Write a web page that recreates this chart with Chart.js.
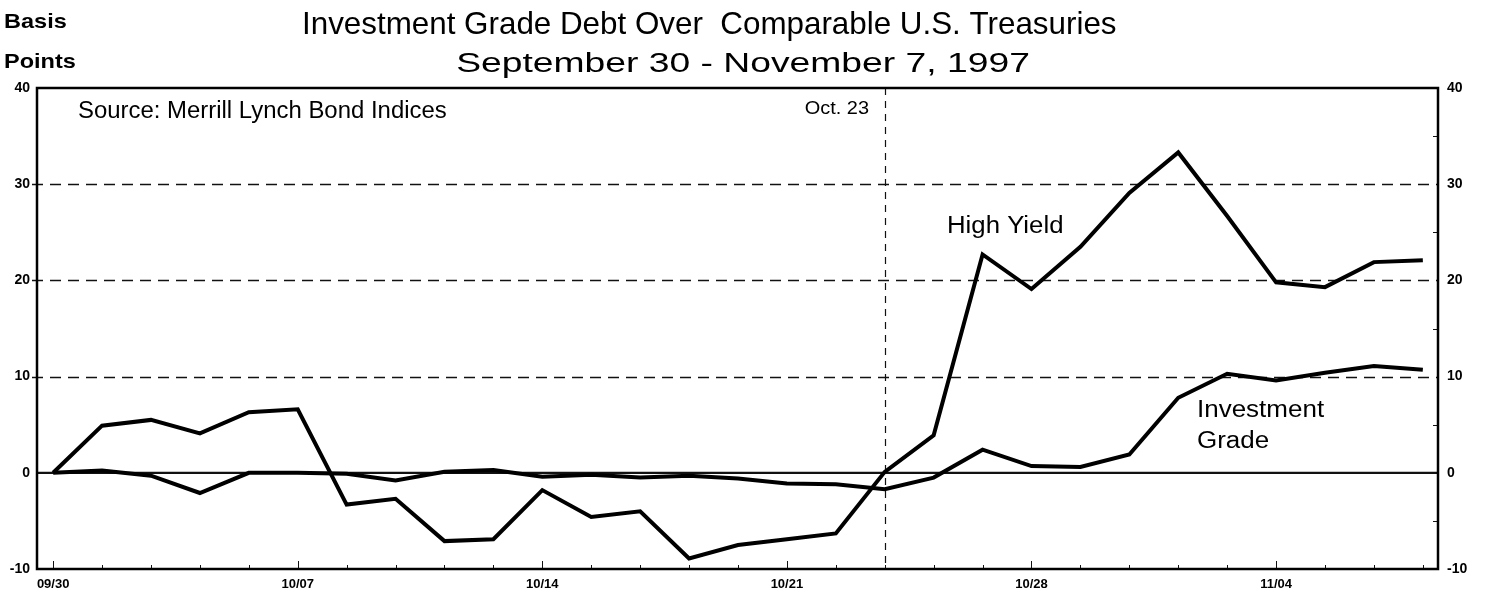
<!DOCTYPE html>
<html>
<head>
<meta charset="utf-8">
<script src="https://cdn.jsdelivr.net/npm/chart.js@4.4.0/dist/chart.umd.min.js"></script>
<style>
    html, body { margin: 0; padding: 0; background: #fff; }
    #wrap { width: 1492px; height: 598px; }
</style>
</head>
<body>
<div id="wrap"><canvas id="spreadChart" width="1492" height="598"></canvas></div>
<script>
// =========================================================
// Datos (puntos básicos sobre Treasuries, días hábiles)
// =========================================================

const dates = [
    '09/30', '10/01', '10/02', '10/03', '10/06', '10/07', '10/08', '10/09', '10/10',
    '10/13', '10/14', '10/15', '10/16', '10/17', '10/20', '10/21', '10/22', '10/23',
    '10/24', '10/27', '10/28', '10/29', '10/30', '10/31', '11/03', '11/04', '11/05',
    '11/06', '11/07'
];

const tickLabels = ['09/30', '10/07', '10/14', '10/21', '10/28', '11/04'];

const highYield = [
    0, 4.9, 5.5, 4.1, 6.3, 6.6, -3.3, -2.7, -7.1,
    -6.9, -1.8, -4.6, -4.0, -8.9, -7.5, -6.9, -6.3, 0.1,
    3.9, 22.7, 19.1, 23.5, 29.1, 33.3, 26.7, 19.8, 19.3,
    21.9, 22.1
];

const investmentGrade = [
    0, 0.25, -0.3, -2.1, 0, 0, -0.1, -0.8, 0.1,
    0.3, -0.4, -0.2, -0.5, -0.3, -0.6, -1.1, -1.2, -1.7,
    -0.5, 2.4, 0.7, 0.6, 1.9, 7.8, 10.3, 9.6, 10.4,
    11.1, 10.7
];

const yTicks = [-10, 0, 10, 20, 30, 40];
const dashedLevels = [10, 20, 30];
const eventDate = '10/23';

const FONT = '"Liberation Sans", Arial, sans-serif';

// texto con estiramiento horizontal (el original está escaneado más ancho)
function drawText(ctx, text, x, y, size, align, sx, weight) {
    ctx.save();
    ctx.font = `${weight || 'normal'} ${size}px ${FONT}`;
    ctx.textAlign = align;
    ctx.textBaseline = 'alphabetic';
    ctx.fillStyle = '#000';
    ctx.translate(x, y);
    ctx.scale(sx, 1);
    ctx.fillText(text, 0, 0);
    ctx.restore();
}

// =========================================================
// Plugin: rejilla discontinua, línea cero, marca Oct. 23, marco y textos
// =========================================================

const framePlugin = {
    id: 'frame',
    beforeDatasetsDraw(chart) {
        const { ctx, chartArea: a, scales } = chart;
        const y = scales.y, x = scales.x, y2 = scales.y2;
        ctx.save();
        ctx.strokeStyle = '#111';

        // líneas discontinuas horizontales
        ctx.lineWidth = 1.3;
        ctx.setLineDash([11, 7]);
        dashedLevels.forEach(v => {
            const py = Math.round(y.getPixelForValue(v)) + 0.5;
            ctx.beginPath();
            ctx.moveTo(a.left - 5, py);
            ctx.lineTo(a.right, py);
            ctx.stroke();
        });

        // línea vertical del evento
        ctx.lineWidth = 1.2;
        ctx.setLineDash([7, 6]);
        const ex = Math.round(x.getPixelForValue(dates.indexOf(eventDate))) + 0.5;
        ctx.beginPath();
        ctx.moveTo(ex, a.top);
        ctx.lineTo(ex, a.bottom);
        ctx.stroke();

        // línea cero
        ctx.setLineDash([]);
        ctx.lineWidth = 2.2;
        const zy = y.getPixelForValue(0);
        ctx.beginPath();
        ctx.moveTo(a.left, zy);
        ctx.lineTo(a.right, zy);
        ctx.stroke();

        // marcas del eje x hacia dentro
        ctx.lineWidth = 1;
        dates.forEach((d, i) => {
            const px = Math.round(x.getPixelForValue(i)) + 0.5;
            const len = tickLabels.includes(d) ? 8 : 4;
            ctx.beginPath();
            ctx.moveTo(px, a.bottom);
            ctx.lineTo(px, a.bottom - len);
            ctx.stroke();
        });

        // marcas menores del eje derecho
        for (let v = -5; v < 40; v += 10) {
            const py = Math.round(y2.getPixelForValue(v)) + 0.5;
            ctx.beginPath();
            ctx.moveTo(a.right, py);
            ctx.lineTo(a.right - 5, py);
            ctx.stroke();
        }
        ctx.restore();
    },
    afterDatasetsDraw(chart) {
        const { ctx, chartArea: a } = chart;
        ctx.save();
        ctx.strokeStyle = '#000';
        ctx.lineWidth = 2.5;
        ctx.strokeRect(a.left, a.top, a.right - a.left, a.bottom - a.top);
        ctx.restore();

        drawText(ctx, 'Basis', 4, 28, 21, 'left', 1.12, 'bold');
        drawText(ctx, 'Points', 4, 68, 21, 'left', 1.12, 'bold');
        drawText(ctx, 'Investment Grade Debt Over  Comparable U.S. Treasuries', 302, 34, 32, 'left', 0.98);
        drawText(ctx, 'September 30 - November 7, 1997', 743, 72, 27, 'center', 1.38);
        drawText(ctx, 'Source: Merrill Lynch Bond Indices', 78, 118, 23, 'left', 1.04);
        drawText(ctx, 'Oct. 23', 869, 114, 19, 'right', 1.05);
        drawText(ctx, 'High Yield', 947, 233, 23, 'left', 1.12);
        drawText(ctx, 'Investment', 1197, 417, 23, 'left', 1.13);
        drawText(ctx, 'Grade', 1197, 448, 23, 'left', 1.13);
    }
};

// =========================================================
// Gráfico
// =========================================================

function yAxis(position, width, pad) {
    return {
        type: 'linear',
        position: position,
        min: -10,
        max: 40,
        afterBuildTicks: s => { s.ticks = yTicks.map(v => ({ value: v })); },
        afterFit: s => { s.width = width; },
        grid: { display: false, drawTicks: false },
        border: { display: false },
        ticks: {
            padding: pad,
            color: '#000',
            font: { family: FONT, size: 14, weight: 'bold' }
        }
    };
}

const ctx = document.getElementById('spreadChart').getContext('2d');

new Chart(ctx, {
    type: 'line',
    data: {
        datasets: [
            {
                label: 'High Yield',
                data: highYield.map((v, i) => ({ x: i, y: v })),
                borderColor: '#000',
                borderWidth: 4,
                pointRadius: 0,
                tension: 0,
                yAxisID: 'y'
            },
            {
                label: 'Investment Grade',
                data: investmentGrade.map((v, i) => ({ x: i, y: v })),
                borderColor: '#000',
                borderWidth: 4,
                pointRadius: 0,
                tension: 0,
                yAxisID: 'y'
            }
        ]
    },
    options: {
        responsive: false,
        animation: false,
        devicePixelRatio: 1,
        layout: { padding: { top: 88, left: 0, right: 0, bottom: 0 } },
        plugins: {
            legend: { display: false },
            tooltip: { enabled: false }
        },
        scales: {
            x: {
                type: 'linear',
                min: -0.33,
                max: 28.31,
                afterBuildTicks: s => { s.ticks = dates.map((d, i) => ({ value: i })); },
                afterFit: s => { s.height = 29; },
                grid: { display: false, drawTicks: false },
                border: { display: false },
                ticks: {
                    autoSkip: false,
                    maxRotation: 0,
                    padding: 8,
                    color: '#000',
                    font: { family: FONT, size: 13, weight: 'bold' },
                    callback: v => tickLabels.includes(dates[v]) ? dates[v] : ''
                }
            },
            y: yAxis('left', 37, 7),
            y2: yAxis('right', 54, 9)
        }
    },
    plugins: [framePlugin]
});
</script>
</body>
</html>
